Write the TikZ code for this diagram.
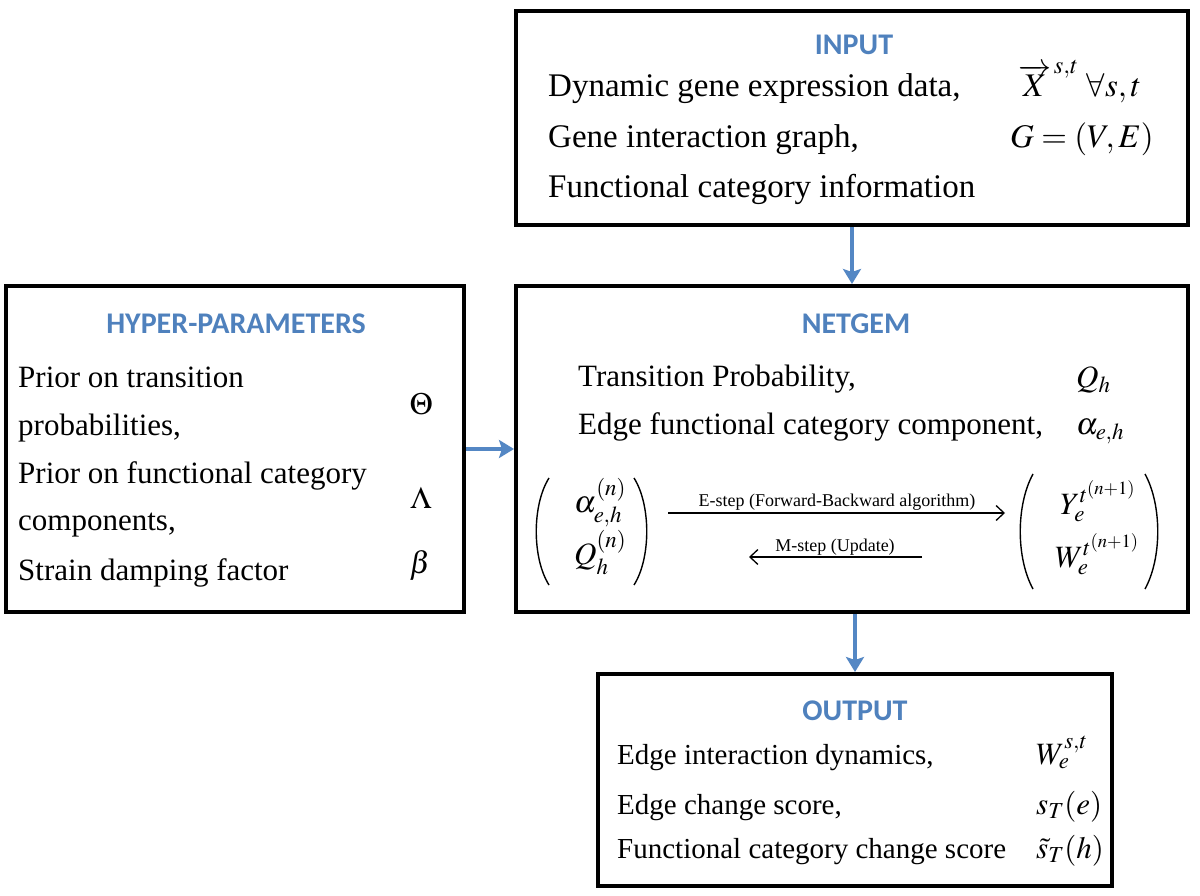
\documentclass[tikz,border=0pt]{standalone}
\usepackage{mathptmx}
\usepackage{fontspec}
\setmainfont{Liberation Serif}
\newfontfamily\bodyfont{Liberation Serif}
\newfontfamily\titlefont{Carlito}
\usetikzlibrary{arrows.meta}
\definecolor{ttlblue}{RGB}{79,129,189}
\definecolor{arrblue}{RGB}{84,135,196}
\tikzset{
  box/.style={draw=black, line width=4pt, inner sep=0pt},
  ttl/.style={anchor=base, inner sep=0pt, text=ttlblue, font=\titlefont\bfseries\fontsize{30}{36}\selectfont},
  txtA/.style={anchor=base west, inner sep=0pt, font=\bodyfont\fontsize{33}{40}\selectfont},
  txtB/.style={anchor=base west, inner sep=0pt, font=\bodyfont\fontsize{31}{38}\selectfont},
  txtC/.style={anchor=base west, inner sep=0pt, font=\bodyfont\fontsize{29}{35}\selectfont},
  mth/.style={anchor=base west, inner sep=0pt, font=\bodyfont\fontsize{31}{38}\selectfont},
  lbl/.style={anchor=base, inner sep=0pt, font=\bodyfont\fontsize{18}{22}\selectfont},
  flow/.style={draw=arrblue, line width=3.5pt, -{Stealth[length=15pt,width=18pt,inset=3pt]}},
  emarrow/.style={draw=black, line width=1.3pt, -{Straight Barb[length=8pt,width=15pt]}},
  paren/.style={draw=black, line width=1.4pt}
}
\begin{document}
\begin{tikzpicture}[x=1pt,y=-1pt]
\useasboundingbox (0,0) rectangle (1200,896);
% boxes
\node[box, minimum width=672pt, minimum height=214pt] (input) at (852,118.5) {};
\node[box, minimum width=458pt, minimum height=326pt] (hyper) at (235,449) {};
\node[box, minimum width=672pt, minimum height=326pt] (netgem) at (852,449) {};
\node[box, minimum width=514pt, minimum height=212pt] (output) at (855,780) {};
% connectors
\draw[flow] (input.south) -- (netgem.north);
\draw[flow] (hyper.east) -- (netgem.west);
\draw[flow] (netgem.south -| output.north) -- (output.north);

% INPUT
\node[ttl] (tin) at (854,55) {INPUT};
\node[txtA] (in1) at (548,97) {Dynamic gene expression data,};
\node[txtA] (in2) at (548,148) {Gene interaction graph,};
\node[txtA] (in3) at (548,198) {Functional category information};
\node[txtA] (inm1) at (1018,97) {$\overrightarrow{X}^{\,s,t}\ \forall s,t$};
\node[txtA] (inm2) at (1010,148) {$G=(V,E)$};

% HYPER-PARAMETERS
\node[ttl] (thy) at (236,333) {HYPER-PARAMETERS};
\node[txtB] (hy1) at (18,387) {Prior on transition};
\node[txtB] (hy2) at (18,435) {probabilities,};
\node[txtB] (hy3) at (18,483) {Prior on functional category};
\node[txtB] (hy4) at (18,530) {components,};
\node[txtB] (hy5) at (18,580) {Strain damping factor};
\node[anchor=base, inner sep=0pt, font=\fontsize{31}{38}\selectfont] (hym1) at (421,414) {$\Theta$};
\node[anchor=base, inner sep=0pt, font=\fontsize{31}{38}\selectfont] (hym2) at (421,508) {$\Lambda$};
\node[anchor=base, inner sep=0pt, font=\fontsize{31}{38}\selectfont] (hym3) at (420,573) {$\beta$};

% NETGEM
\node[ttl] (tng) at (856,333) {NETGEM};
\node[txtB] (ng1) at (578,386) {Transition Probability,};
\node[txtB] (ng2) at (578,434) {Edge functional category component,};
\node[mth] (ngm1) at (1076,387) {$Q_h$};
\node[mth] (ngm2) at (1076,434) {$\alpha_{e,h}$};

% left vector
\draw[paren] (549,478) .. controls (532,505) and (532,558) .. (549,585);
\draw[paren] (634,478) .. controls (651,505) and (651,558) .. (634,585);
\node[mth] (va) at (574,512) {$\alpha^{(n)}_{e,h}$};
\node[mth] (vq) at (574,564) {$Q^{(n)}_h$};
% right vector
\draw[paren] (1033,474) .. controls (1016,505) and (1016,558) .. (1033,589);
\draw[paren] (1145,474) .. controls (1162,505) and (1162,558) .. (1145,589);
\node[mth] (vy) at (1060,514) {$Y_e^{t^{(n+1)}}$};
\node[mth] (vw) at (1055,567) {$W_e^{t^{(n+1)}}$};
% EM arrows
\coordinate (ea) at (668,513);
\coordinate (eb) at (1005,513);
\coordinate (ma) at (922,557);
\coordinate (mb) at (749,557);
\draw[emarrow] (ea) -- (eb);
\draw[emarrow] (ma) -- (mb);
\node[lbl] (estep) at (837,506) {E-step (Forward-Backward algorithm)};
\node[lbl] (mstep) at (835,551) {M-step (Update)};

% OUTPUT
\node[ttl] (tout) at (855,720) {OUTPUT};
\node[txtC] (ou1) at (617,764) {Edge interaction dynamics,};
\node[txtC] (ou2) at (617,814) {Edge change score,};
\node[txtC] (ou3) at (617,858) {Functional category change score};
\node[mth] (oum1) at (1036,764) {$W_e^{s,t}$};
\node[mth] (oum2) at (1036,814) {$s_T(e)$};
\node[mth] (oum3) at (1036,858) {$\tilde{s}_T(h)$};
\end{tikzpicture}
\end{document}
